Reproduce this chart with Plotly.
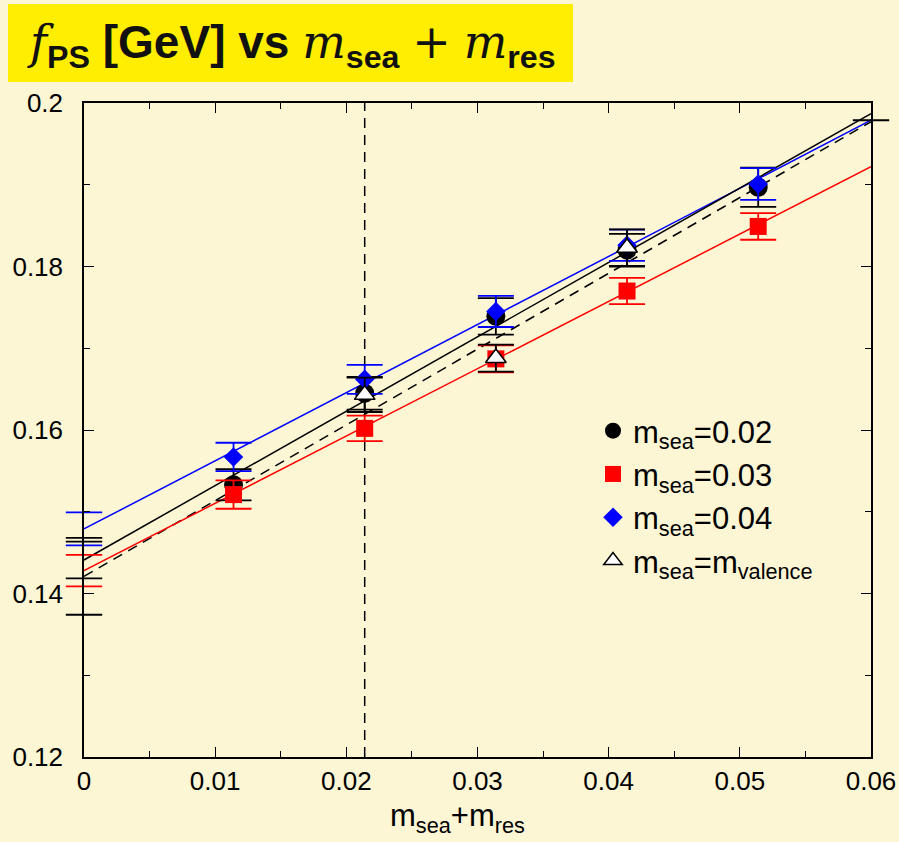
import plotly.graph_objects as go

# ---------------- data ----------------
x_pts = [0.0114, 0.0214, 0.0314, 0.0414, 0.0514]
f_02 = [0.1533, 0.1645, 0.1739, 0.1820, 0.1897]
e_02 = [0.0019, 0.0020, 0.00224, 0.0020, 0.0024]
f_03 = [0.1521, 0.1602, 0.1687, 0.1770, 0.1849]
e_03 = [0.00173, 0.00155, 0.00165, 0.0016, 0.00163]
f_04 = [0.1567, 0.1662, 0.1745, 0.1826, 0.1901]
e_04 = [0.00174, 0.00177, 0.0019, 0.0019, 0.00194]
x_unit = [0.0214, 0.0314, 0.0414]
f_unit = [0.1643, 0.1688, 0.1823]
e_unit = [0.0021, 0.00165, 0.00224]

x_fit = [0.0, 0.06]
fit_02 = [0.1441, 0.1987]
fit_03 = [0.1428, 0.1922]
fit_04 = [0.1479, 0.1979]
fit_unit = [0.1421, 0.1977]
err0_02, err0_03, err0_04, err0_unit = 0.00224, 0.00193, 0.00202, 0.0047

x_phys = [0.06]
f_phys_cap = [0.1979]
m_ref = 0.0214

x_ticks = [0, 0.01, 0.02, 0.03, 0.04, 0.05, 0.06]
x_ticklabels = ["0", "0.01", "0.02", "0.03", "0.04", "0.05", "0.06"]
y_ticks = [0.12, 0.14, 0.16, 0.18, 0.2]
y_ticklabels = ["0.12", "0.14", "0.16", "0.18", "0.2"]

BG = "#FCF6D4"
FONT = "Liberation Sans, Arial, sans-serif"

fig = go.Figure()

# fit lines
for yv, col, dash in [(fit_04, "blue", "solid"), (fit_02, "black", "solid"),
                      (fit_unit, "black", "10px,7px"), (fit_03, "red", "solid")]:
    fig.add_trace(go.Scatter(x=x_fit, y=yv, mode="lines",
                             line=dict(color=col, width=1.5, dash=dash),
                             showlegend=False, hoverinfo="skip"))

# chiral-limit error bars at x=0 (caps drawn unclipped)
for yv, ev, col in [(fit_04, err0_04, "blue"), (fit_02, err0_02, "black"),
                    (fit_03, err0_03, "red"), (fit_unit, err0_unit, "black")]:
    y0 = yv[0]
    fig.add_trace(go.Scatter(x=[x_fit[0], x_fit[0]], y=[y0 - ev, y0 + ev], mode="markers",
                             marker=dict(symbol="line-ew", size=26,
                                         line=dict(color=col, width=1.8)),
                             cliponaxis=False, showlegend=False, hoverinfo="skip"))

# right-end cap
fig.add_trace(go.Scatter(x=x_phys, y=f_phys_cap, mode="markers",
                         marker=dict(symbol="line-ew", size=26,
                                     line=dict(color="black", width=2)),
                         cliponaxis=False, showlegend=False, hoverinfo="skip"))

# data points
fig.add_trace(go.Scatter(x=x_pts, y=f_02, mode="markers", name="m<sub>sea</sub>=0.02",
                         marker=dict(symbol="circle", size=19, color="black"),
                         error_y=dict(type="data", array=e_02, color="black",
                                      thickness=1.8, width=18)))
fig.add_trace(go.Scatter(x=x_pts, y=f_03, mode="markers", name="m<sub>sea</sub>=0.03",
                         marker=dict(symbol="square", size=17, color="red"),
                         error_y=dict(type="data", array=e_03, color="red",
                                      thickness=1.8, width=18)))
fig.add_trace(go.Scatter(x=x_pts, y=f_04, mode="markers", name="m<sub>sea</sub>=0.04",
                         marker=dict(symbol="diamond", size=15, color="blue"),
                         error_y=dict(type="data", array=e_04, color="blue",
                                      thickness=1.8, width=18)))
fig.add_trace(go.Scatter(x=x_unit, y=f_unit, mode="markers",
                         name="m<sub>sea</sub>=m<sub>valence</sub>",
                         marker=dict(symbol="triangle-up", size=18, color="white",
                                     line=dict(color="black", width=1.5)),
                         error_y=dict(type="data", array=e_unit, color="black",
                                      thickness=1.8, width=18)))

# vertical dashed reference line
fig.add_shape(type="line", xref="x", yref="y", x0=m_ref, x1=m_ref,
              y0=y_ticks[0], y1=y_ticks[-1],
              line=dict(color="black", width=1.5, dash="10px,7px"), layer="below")

# title box
fig.add_shape(type="rect", xref="paper", yref="paper",
              x0=(8 - 84) / 787, x1=(573 - 84) / 787,
              y0=(757 - 82) / 654, y1=(757 - 4) / 654,
              fillcolor="#FFEE00", line=dict(width=0), layer="below")
serif_i = "<span style=\"font-family:'DejaVu Serif';font-style:italic;font-weight:normal\">%s</span>"
title_txt = (serif_i % "f" + "<sub><b>PS</b></sub> <b>[GeV] vs</b> " + serif_i % "m"
             + "<sub><b>sea</b></sub> <span style=\"font-family:'DejaVu Serif';font-weight:normal\">+</span> "
             + serif_i % "m" + "<sub><b>res</b></sub>")
fig.add_annotation(xref="paper", yref="paper", x=(291 - 84) / 787, y=(757 - 45) / 654,
                   text=title_txt, showarrow=False, xanchor="center", yanchor="middle",
                   font=dict(family=FONT, size=46, color="#111111"))

# x axis title
fig.add_annotation(xref="paper", yref="paper", x=(457 - 84) / 787, y=(757 - 818) / 654,
                   text="m<sub>sea</sub>+m<sub>res</sub>", showarrow=False,
                   xanchor="center", yanchor="middle",
                   font=dict(family=FONT, size=31, color="black"))

axis_common = dict(showgrid=False, zeroline=False, showline=True, linecolor="black",
                   linewidth=1.5, mirror="ticks", ticks="inside", tickcolor="black",
                   tickwidth=1.2, ticklen=10, automargin=False,
                   tickfont=dict(family=FONT, size=26, color="black"))

fig.update_xaxes(range=[x_ticks[0], x_ticks[-1]], tickvals=x_ticks, ticktext=x_ticklabels,
                 minor=dict(dtick=0.005, ticks="inside", ticklen=6, tickcolor="black",
                            tickwidth=1.2, tick0=0),
                 **axis_common)
fig.update_yaxes(range=[y_ticks[0], y_ticks[-1]], tickvals=y_ticks, ticktext=y_ticklabels,
                 minor=dict(dtick=0.01, ticks="inside", ticklen=6, tickcolor="black",
                            tickwidth=1.2, tick0=0),
                 ticklabelstandoff=14,
                 **axis_common)

fig.update_layout(
    width=899, height=842,
    margin=dict(l=84, r=28, t=103, b=85, autoexpand=False),
    paper_bgcolor=BG, plot_bgcolor=BG,
    font=dict(family=FONT, color="black"),
    legend=dict(x=(593 - 84) / 787, y=(757 - 404) / 654, xanchor="left", yanchor="top",
                bgcolor="rgba(0,0,0,0)", font=dict(family=FONT, size=31, color="black"),
                tracegroupgap=0),
)

fig.write_html("out.html")
